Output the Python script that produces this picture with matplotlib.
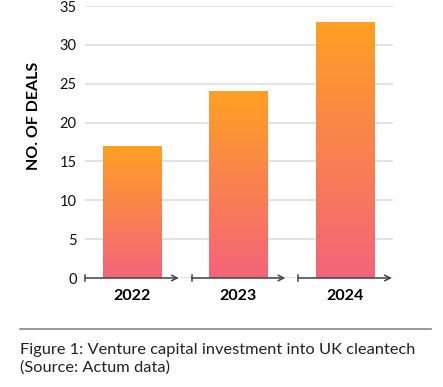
import matplotlib
matplotlib.use('Agg')
import numpy as np
from matplotlib import pyplot as plt
from matplotlib.colors import LinearSegmentedColormap

years = ['2022', '2023', '2024']
deals = [17, 24, 33]
yticks = [0, 5, 10, 15, 20, 25, 30, 35]

W, H = 443, 387
fig = plt.figure(figsize=(W / 100, H / 100), dpi=100)
plt.rcParams['font.family'] = ['Lato', 'DejaVu Sans']

ax = fig.add_axes([85 / W, (H - 278) / H, 308 / W, 272 / H])
ax.set_xlim(-0.44, 2.45)
ax.set_ylim(0, 35)

cmap = LinearSegmentedColormap.from_list('grad', ['#F3647A', '#FFA023'])
grad = np.linspace(0, 1, 256).reshape(-1, 1)

bars = ax.bar(range(len(years)), deals, width=0.545, color='none', zorder=3)
for b in bars:
    x0, w, h = b.get_x(), b.get_width(), b.get_height()
    im = ax.imshow(grad, cmap=cmap, aspect='auto', origin='lower',
                   extent=[x0, x0 + w, 0, h], zorder=3)
    im.set_clip_path(b)

ax.set_yticks(yticks)
ax.yaxis.grid(True, color='#dedede', lw=1.2)
ax.set_axisbelow(True)
ax.tick_params(axis='y', length=0, labelsize=10.5, pad=6, labelcolor='#111111')
ax.set_xticks(range(len(years)))
ax.set_xticklabels(years, fontsize=11.5, fontweight='bold')
ax.tick_params(axis='x', length=0, pad=8)
for s in ax.spines.values():
    s.set_visible(False)

# separate arrowed axis segments per category
for i in range(len(years)):
    ax.annotate('', xy=(i + 0.44, 0), xytext=(i - 0.44, 0),
                arrowprops=dict(arrowstyle='->', color='#444444', lw=1.1,
                                shrinkA=0, shrinkB=0),
                annotation_clip=False, zorder=5)
    ax.plot([i - 0.44, i - 0.44], [-0.45, 0.45], color='#444444', lw=1.1,
            clip_on=False, zorder=5)

ax.set_ylabel('NO. OF DEALS', fontsize=11.5, fontweight='bold')
ax.yaxis.set_label_coords(-44 / 308, 0.596)

fig.add_artist(plt.Line2D([20 / W, 431 / W], [1 - 329 / H, 1 - 329 / H],
                          color='#888888', lw=1.2))
fig.text(20 / W, 1 - 350 / H, 'Figure 1: Venture capital investment into UK cleantech',
         fontsize=11.8, color='#222222', va='center')
fig.text(20 / W, 1 - 368 / H, '(Source: Actum data)',
         fontsize=11.8, color='#222222', va='center')

fig.savefig('out.png', dpi=100)
